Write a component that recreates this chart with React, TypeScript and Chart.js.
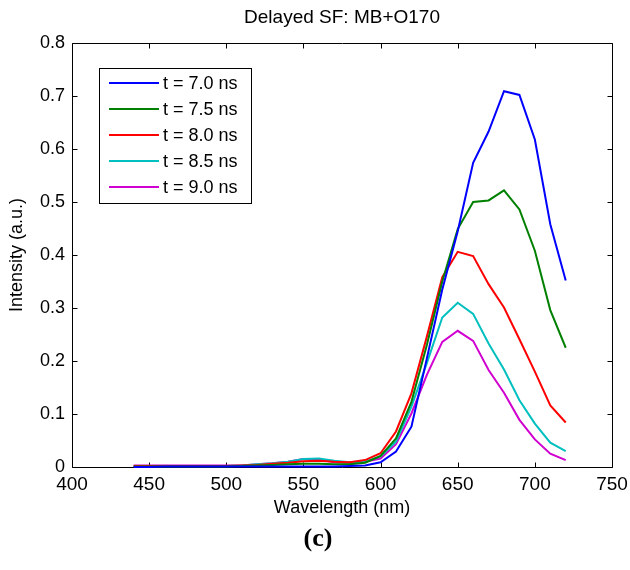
import React, { useEffect, useRef } from "react";
import { Chart, registerables } from "chart.js";

Chart.register(...registerables);

const chartTitle = "Delayed SF: MB+O170";
const xAxisTitle = "Wavelength (nm)";
const yAxisTitle = "Intensity (a.u.)";
const panelLabel = "(c)";

const wavelengths = [440, 450, 460, 470, 480, 490, 500, 510, 520, 530, 540, 550, 560, 570, 580, 590, 600, 610, 620, 630, 640, 650, 660, 670, 680, 690, 700, 710, 720];

const seriesLabels = ["t = 7.0 ns", "t = 7.5 ns", "t = 8.0 ns", "t = 8.5 ns", "t = 9.0 ns"];
const seriesColors = ["#0000FF", "#008000", "#FF0000", "#00BFBF", "#D000D0"];

const t70 = [0.000, 0.000, 0.001, 0.001, 0.001, 0.001, 0.001, 0.001, 0.001, 0.001, 0.001, 0.001, 0.001, 0.001, 0.002, 0.003, 0.009, 0.029, 0.076, 0.205, 0.335, 0.445, 0.574, 0.633, 0.709, 0.702, 0.618, 0.458, 0.352];
const t75 = [0.001, 0.001, 0.001, 0.001, 0.001, 0.001, 0.001, 0.002, 0.003, 0.004, 0.005, 0.006, 0.006, 0.005, 0.005, 0.008, 0.021, 0.054, 0.123, 0.230, 0.350, 0.449, 0.500, 0.503, 0.522, 0.486, 0.408, 0.296, 0.225];
const t80 = [0.002, 0.002, 0.002, 0.002, 0.002, 0.002, 0.002, 0.003, 0.004, 0.006, 0.008, 0.011, 0.012, 0.010, 0.009, 0.013, 0.026, 0.067, 0.139, 0.246, 0.358, 0.406, 0.398, 0.345, 0.301, 0.241, 0.180, 0.116, 0.084];
const t85 = [0.002, 0.002, 0.002, 0.002, 0.002, 0.002, 0.002, 0.003, 0.005, 0.007, 0.010, 0.015, 0.016, 0.012, 0.009, 0.010, 0.020, 0.048, 0.114, 0.196, 0.282, 0.310, 0.289, 0.233, 0.184, 0.126, 0.082, 0.046, 0.030];
const t90 = [0.003, 0.003, 0.003, 0.003, 0.003, 0.003, 0.003, 0.003, 0.005, 0.007, 0.010, 0.015, 0.014, 0.009, 0.008, 0.010, 0.016, 0.043, 0.101, 0.174, 0.236, 0.257, 0.238, 0.183, 0.140, 0.089, 0.052, 0.025, 0.013];

const seriesValues = [t70, t75, t80, t85, t90];

const xTicks = [400, 450, 500, 550, 600, 650, 700, 750];
const yTicks = [0, 0.1, 0.2, 0.3, 0.4, 0.5, 0.6, 0.7, 0.8];

const FONT = "'Liberation Sans', Arial, Helvetica, sans-serif";

const framePlugin = {
  id: "matlabFrame",
  beforeDatasetsDraw(chart: any) {
    const { ctx, chartArea: a, scales } = chart;
    const xs = scales.x;
    const ys = scales.y;
    ctx.save();
    ctx.strokeStyle = "#000";
    ctx.lineWidth = 1;
    ctx.beginPath();
    const L = Math.round(a.left) + 0.5;
    const R = Math.round(a.right) + 0.5;
    const T = Math.round(a.top) + 0.5;
    const B = Math.round(a.bottom) + 0.5;
    ctx.rect(L, T, R - L, B - T);
    const tl = 5;
    xTicks.forEach((v) => {
      const px = Math.round(xs.getPixelForValue(v)) + 0.5;
      ctx.moveTo(px, B);
      ctx.lineTo(px, B - tl);
      ctx.moveTo(px, T);
      ctx.lineTo(px, T + tl);
    });
    yTicks.forEach((v) => {
      const py = Math.round(ys.getPixelForValue(v)) + 0.5;
      ctx.moveTo(L, py);
      ctx.lineTo(L + tl, py);
      ctx.moveTo(R, py);
      ctx.lineTo(R - tl, py);
    });
    ctx.stroke();
    ctx.restore();
  },
  afterDraw(chart: any) {
    const { ctx, chartArea: a } = chart;
    ctx.save();
    ctx.fillStyle = "#000";
    ctx.font = `19px ${FONT}`;
    ctx.textAlign = "center";
    ctx.textBaseline = "middle";
    ctx.fillText(chartTitle, (a.left + a.right) / 2, 18);
    const bx = 99.5, by = 68.5, bw = 152, bh = 135;
    ctx.fillStyle = "#fff";
    ctx.fillRect(bx, by, bw, bh);
    ctx.strokeStyle = "#000";
    ctx.lineWidth = 1;
    ctx.strokeRect(bx, by, bw, bh);
    chart.data.datasets.forEach((ds: any, i: number) => {
      const yy = 83 + i * 26;
      ctx.strokeStyle = ds.borderColor;
      ctx.lineWidth = 2;
      ctx.beginPath();
      ctx.moveTo(109, yy);
      ctx.lineTo(159, yy);
      ctx.stroke();
      ctx.fillStyle = "#000";
      ctx.font = `18px ${FONT}`;
      ctx.textAlign = "left";
      ctx.textBaseline = "middle";
      ctx.fillText(ds.label, 163, yy + 1);
    });
    ctx.restore();
  },
};

export default function App() {
  const ref = useRef<HTMLCanvasElement>(null);
  useEffect(() => {
    if (!ref.current) return;
    const datasets = seriesValues.map((vals, i) => ({
      label: seriesLabels[i],
      data: wavelengths.map((w, j) => ({ x: w, y: vals[j] })),
      borderColor: seriesColors[i],
      backgroundColor: seriesColors[i],
      borderWidth: 2,
      pointRadius: 0,
      tension: 0,
      clip: 6,
    }));
    const chart = new Chart(ref.current, {
      type: "line",
      data: { datasets },
      options: {
        animation: false,
        responsive: false,
        devicePixelRatio: 1,
        layout: { padding: { left: 0, top: 43, right: 18, bottom: 49 } },
        plugins: { legend: { display: false }, title: { display: false }, tooltip: { enabled: false } },
        scales: {
          x: {
            type: "linear",
            min: 400,
            max: 750,
            afterFit: (s: any) => { s.height = 54; s.paddingLeft = 0; s.paddingRight = 0; },
            afterBuildTicks: (s: any) => { s.ticks = xTicks.map((v) => ({ value: v })); },
            grid: { display: false, drawTicks: false },
            border: { display: false },
            ticks: { color: "#000", font: { family: FONT, size: 19 }, padding: 6, maxRotation: 0, autoSkip: false },
            title: { display: true, text: xAxisTitle, color: "#000", font: { family: FONT, size: 18 }, padding: { top: 0, bottom: 2 } },
          },
          y: {
            type: "linear",
            min: 0,
            max: 0.8,
            afterFit: (s: any) => { s.width = 72; s.paddingTop = 0; s.paddingBottom = 0; },
            afterBuildTicks: (s: any) => { s.ticks = yTicks.map((v) => ({ value: v })); },
            grid: { display: false, drawTicks: false },
            border: { display: false },
            ticks: { color: "#000", font: { family: FONT, size: 18 }, padding: 7, autoSkip: false, callback: (v: any) => String(Math.round(Number(v) * 10) / 10) },
            title: { display: true, text: yAxisTitle, color: "#000", font: { family: FONT, size: 18 }, padding: { top: 6, bottom: 0 } },
          },
        },
      },
      plugins: [framePlugin],
    });
    return () => chart.destroy();
  }, []);
  return (
    <div style={{ position: "absolute", left: 0, top: 0, width: 630, height: 570, background: "#fff" }}>
      <canvas ref={ref} width={630} height={570} style={{ display: "block" }} />
      <div style={{ position: "absolute", left: 0, top: 523, width: 630, textAlign: "center", fontFamily: "'Liberation Serif', 'Times New Roman', serif", fontWeight: "bold", fontSize: 26, lineHeight: "30px" }}>
        <span style={{ position: "relative", left: 3 }}>{panelLabel}</span>
      </div>
    </div>
  );
}
